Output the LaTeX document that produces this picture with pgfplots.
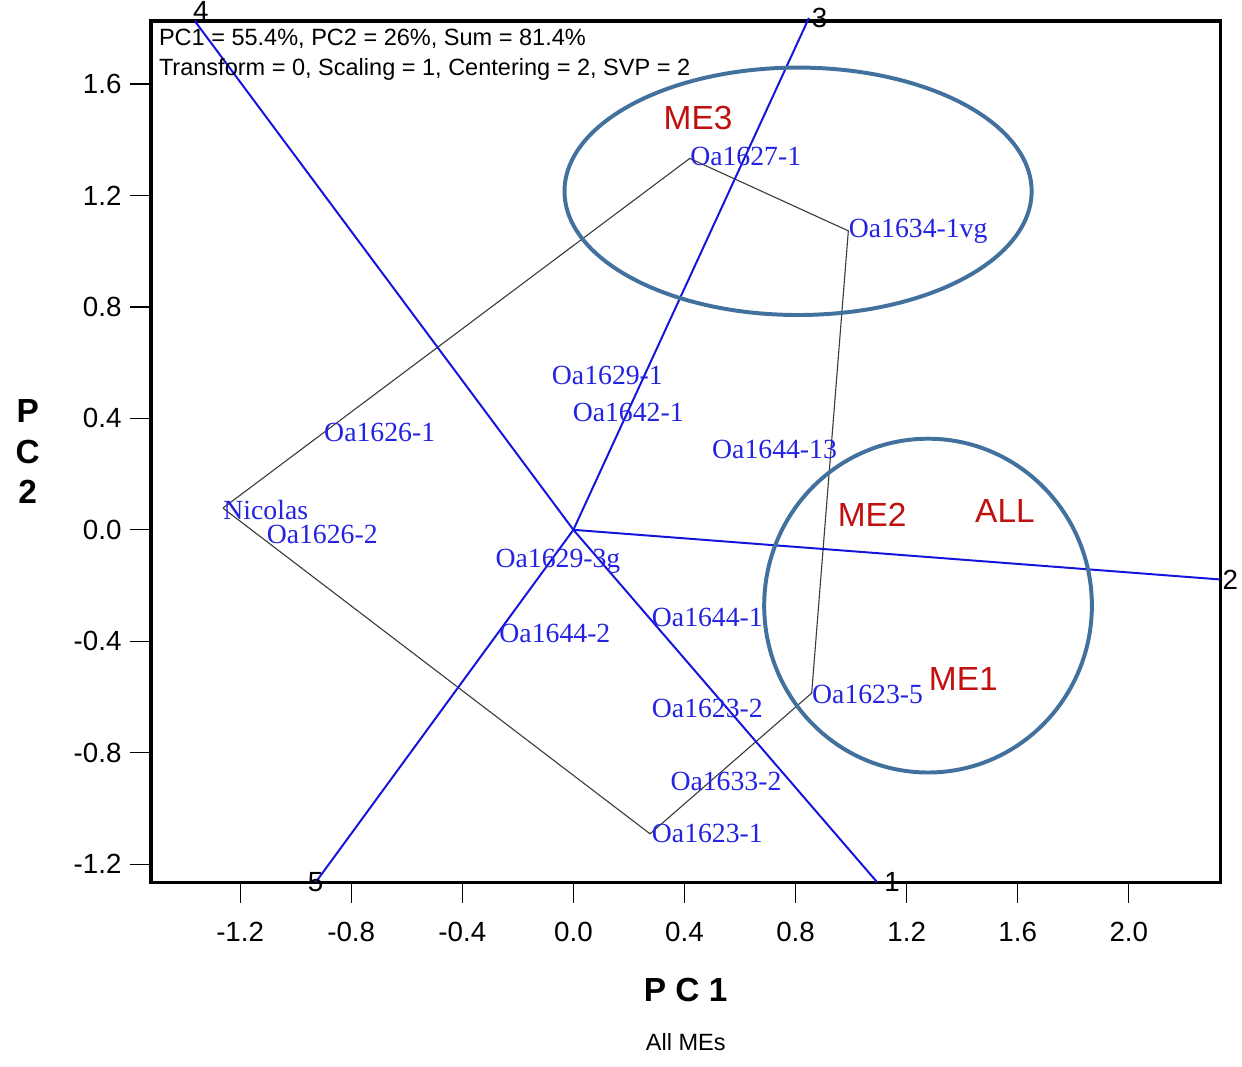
\documentclass[border=0pt]{standalone}
\usepackage{fontspec}
\setmainfont{Liberation Sans}
\newfontfamily\timesfont{Liberation Serif}
\usepackage{pgfplots}
\pgfplotsset{compat=1.18}

\definecolor{vecblue}{RGB}{20,20,220}
\definecolor{genblue}{RGB}{35,35,225}
\definecolor{polygray}{RGB}{60,60,60}
\definecolor{ringblue}{RGB}{65,113,156}
\definecolor{mered}{RGB}{192,16,16}

% genotype scores (label starts at the point)
\pgfplotstableread{
x y label
0.419 1.340 Oa1627-1
0.990 1.070 Oa1634-1vg
-0.079 0.554 Oa1629-1
-0.004 0.423 Oa1642-1
-0.899 0.348 Oa1626-1
0.498 0.288 Oa1644-13
-1.262 0.071 Nicolas
-1.106 -0.018 Oa1626-2
-0.282 -0.114 Oa1629-3g
0.281 -0.316 Oa1644-1
-0.268 -0.373 Oa1644-2
0.281 -0.640 Oa1623-2
0.858 -0.590 Oa1623-5
0.348 -0.903 Oa1633-2
0.281 -1.091 Oa1623-1
}\genotypes

% convex hull of the genotypes
\pgfplotstableread{
x y
-1.262 0.078
0.419 1.333
0.990 1.073
0.858 -0.586
0.276 -1.091
-1.262 0.078
}\hull

\begin{document}
\begin{tikzpicture}
\begin{axis}[
    scale only axis, width=432pt, height=348pt,
    xmin=-1.521, xmax=2.330, ymin=-1.265, ymax=1.827,
    clip=false,
    axis line style={line width=1.4pt},
    tick align=outside, major tick length=8.4pt,
    tick style={black, line width=0.5pt},
    xtick pos=bottom, ytick pos=left,
    xtick={-1.2,-0.8,-0.4,0,0.4,0.8,1.2,1.6,2.0},
    xticklabels={-1.2,-0.8,-0.4,0.0,0.4,0.8,1.2,1.6,2.0},
    ytick={-1.2,-0.8,-0.4,0,0.4,0.8,1.2,1.6},
    yticklabels={-1.2,-0.8,-0.4,0.0,0.4,0.8,1.2,1.6},
    /pgf/number format/assume math mode=true,
    tick label style={font=\fontsize{11.2}{13}\selectfont},
    xticklabel style={yshift=-4pt},
    xlabel={P C 1},
    xlabel style={font=\fontsize{13.5}{16}\selectfont\bfseries,
        at={(axis description cs:0.5,0)}, anchor=center, yshift=-43.6pt},
    ylabel={P\\C\\2},
    ylabel style={font=\fontsize{13.5}{16.4}\selectfont\bfseries, rotate=-90,
        align=center, at={(axis description cs:0,0.5)}, anchor=center, xshift=-49.8pt},
]
% hull
\addplot[polygray, line width=0.45pt, mark=none] table {\hull};

% environment vectors
\addplot[vecblue, line width=0.8pt, mark=none] coordinates {(0,0) (1.094,-1.265)}
    node[pos=1, anchor=west, inner sep=2.5pt, text=black, font=\fontsize{11.2}{13}\selectfont] {1};
\addplot[vecblue, line width=0.8pt, mark=none] coordinates {(0,0) (2.327,-0.178)}
    node[pos=1, anchor=west, inner sep=0.8pt, text=black, font=\fontsize{11.2}{13}\selectfont] {2};
\addplot[vecblue, line width=0.8pt, mark=none] coordinates {(0,0) (0.848,1.837)}
    node[pos=1, anchor=west, inner sep=0.8pt, text=black, font=\fontsize{11.2}{13}\selectfont] {3};
\addplot[vecblue, line width=0.8pt, mark=none] coordinates {(0,0) (-1.364,1.827)}
    node[pos=1, anchor=base west, inner sep=0pt, xshift=-1pt, text=black, font=\fontsize{11.2}{13}\selectfont] {4};
\addplot[vecblue, line width=0.8pt, mark=none] coordinates {(0,0) (-0.928,-1.265)}
    node[pos=1, anchor=center, inner sep=0pt, text=black, font=\fontsize{11.2}{13}\selectfont] {5};

% genotype labels
\addplot[only marks, mark=none, nodes near coords, point meta=explicit symbolic,
    nodes near coords style={anchor=west, inner sep=0pt, text=genblue,
        font=\fontsize{11.2}{13}\timesfont}]
    table[meta=label] {\genotypes};

% mega-environment rings
\draw[ringblue, line width=1.6pt] (axis cs:0.809,1.215) ellipse [x radius=0.841, y radius=0.444];
\draw[ringblue, line width=1.6pt] (axis cs:1.277,-0.272) ellipse [x radius=0.590, y radius=0.599];

\node[text=mered, font=\fontsize{13.5}{16}\selectfont] at (axis cs:0.449,1.478) {ME3};
\node[text=mered, font=\fontsize{13.5}{16}\selectfont] at (axis cs:1.076,0.053) {ME2};
\node[text=mered, font=\fontsize{13.5}{16}\selectfont] at (axis cs:1.554,0.068) {ALL};
\node[text=mered, font=\fontsize{13.5}{16}\selectfont] at (axis cs:1.404,-0.537) {ME1};

\node[anchor=base west, inner sep=0pt, font=\fontsize{9.5}{11}\selectfont]
    at (axis cs:-1.494,1.740) {PC1 = 55.4\%, PC2 = 26\%, Sum = 81.4\%};
\node[anchor=base west, inner sep=0pt, font=\fontsize{9.5}{11}\selectfont]
    at (axis cs:-1.494,1.631) {Transform = 0, Scaling = 1, Centering = 2, SVP = 2};
\end{axis}
\node[font=\fontsize{9.5}{11}\selectfont] at ([yshift=-64.4pt]current axis.south) {All MEs};
\pgfresetboundingbox
\path[use as bounding box] ([shift={(-61pt,-74.3pt)}]current axis.south west)
    rectangle ([shift={(8.7pt,8.4pt)}]current axis.north east);
\end{tikzpicture}
\end{document}
